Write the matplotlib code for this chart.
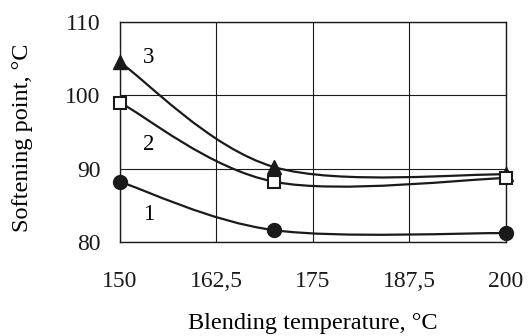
import numpy as np
import matplotlib.pyplot as plt
from matplotlib.path import Path
from matplotlib.patches import PathPatch

plt.rcParams["font.family"] = ["Liberation Serif", "DejaVu Serif"]

temps = [150, 170, 200]
curve1 = [88.2, 81.6, 81.2]
curve2 = [99.0, 88.2, 88.7]
curve3 = [104.5, 90.2, 89.2]
curve_labels = ["1", "2", "3"]
label_pos = [(153.7, 83.7), (153.7, 93.3), (153.7, 105.2)]
x_ticks = [150, 162.5, 175, 187.5, 200]
x_tick_labels = ["150", "162,5", "175", "187,5", "200"]
y_ticks = [80, 90, 100, 110]


def smooth_path(xs, ys):
    # Excel-style smoothed line: cubic Bezier segments through the points
    pts = np.column_stack([xs, ys]).astype(float)
    n = len(pts)
    verts = [pts[0]]
    codes = [Path.MOVETO]
    for i in range(n - 1):
        p_prev = pts[i - 1] if i > 0 else pts[i]
        p_next = pts[i + 2] if i + 2 < n else pts[i + 1]
        c1 = pts[i] + (pts[i + 1] - p_prev) / 6
        c2 = pts[i + 1] - (p_next - pts[i]) / 6
        verts += [c1, c2, pts[i + 1]]
        codes += [Path.CURVE4] * 3
    return Path(verts, codes)


fig = plt.figure(figsize=(5.28, 3.36), dpi=100)
ax = fig.add_axes([0.227, 0.28, 0.731, 0.655])

for ys in (curve1, curve2, curve3):
    ax.add_patch(PathPatch(smooth_path(temps, ys), fill=False,
                           edgecolor="#1a1a1a", lw=1.6, zorder=3))

ax.plot(temps, curve1, "o", color="#1a1a1a", ms=10, zorder=4, clip_on=False)
ax.plot(temps, curve2, "s", mfc="white", mec="#1a1a1a", mew=1.5, ms=9,
        zorder=5, clip_on=False)
ax.plot(temps, curve3, "^", color="#1a1a1a", ms=10, zorder=4, clip_on=False)

for lab, (lx, ly) in zip(curve_labels, label_pos):
    ax.text(lx, ly, lab, fontsize=16.5, ha="center", va="center")

ax.set_xlim(150, 200)
ax.set_ylim(80, 110)
ax.set_xticks(x_ticks)
ax.set_xticklabels(x_tick_labels)
ax.set_yticks(y_ticks)
ax.tick_params(length=0, labelsize=17, colors="#1a1a1a")
ax.tick_params(axis="x", pad=21)
ax.tick_params(axis="y", pad=14)
ax.grid(True, color="#1a1a1a", lw=0.8)
for s in ax.spines.values():
    s.set_color("#1a1a1a")
    s.set_linewidth(1.0)

ax.set_xlabel("Blending temperature, °C", fontsize=17.5, labelpad=15)
ax.set_ylabel("Softening point, °C", fontsize=17.5)
ax.yaxis.set_label_coords(-0.225, 0.475)

fig.savefig("out.png", dpi=100)
